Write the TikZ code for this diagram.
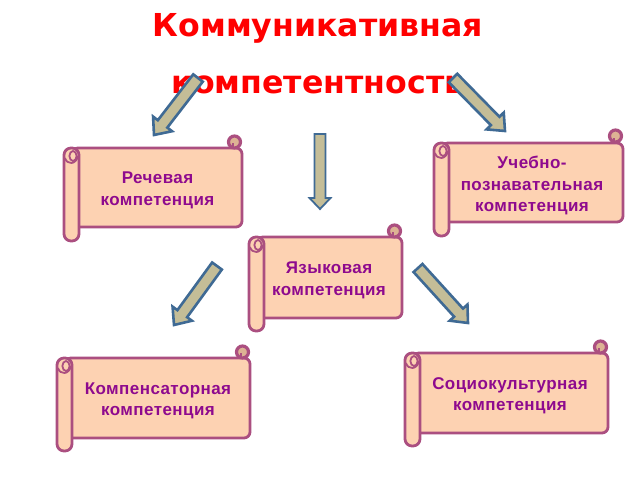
\documentclass[tikz,border=0pt]{standalone}
\usepackage{fontspec}
\setmainfont{Liberation Sans}[LetterSpace=2.5]
\newfontfamily\titlefont{DejaVu Sans}
\usetikzlibrary{calc}
\definecolor{peach}{HTML}{FDD2B2}
\definecolor{scrollline}{HTML}{AB4F80}
\definecolor{curlfill}{HTML}{DDB394}
\definecolor{arrowfill}{HTML}{C4BD97}
\definecolor{arrowline}{HTML}{3F6A94}
\definecolor{labelcol}{HTML}{8E0A8E}
\tikzset{
  x=1pt,y=-1pt,
  scrolledge/.style={draw=scrollline,line width=2.8pt,fill=peach,line join=round},
  scrollcurl/.style={draw=scrollline,line width=3.2pt,fill=curlfill},
  scrollspiral/.style={draw=scrollline,line width=1.8pt},
  scrolllabel/.style={font=\bfseries\fontsize{17}{21.5}\selectfont,text=labelcol,align=center,inner sep=0pt},
  blockarrow/.style={draw=arrowline,line width=2.6pt,fill=arrowfill,line join=miter},
  slimarrow/.style={draw=arrowline,line width=1.8pt,fill=arrowfill,line join=miter},
  titletext/.style={font=\titlefont\bfseries\fontsize{31.6}{34}\selectfont,text=red,inner sep=0pt},
}
% name, L, R, T(curl top), bodytop, bodybottom, B, text, dx
\newcommand{\myscroll}[9]{%
  \path[scrolledge,rounded corners=6pt] (#2+8,#5) -- (#3,#5) -- (#3,#6) -- (#2+8,#6) -- cycle;
  \path[scrollcurl] (#3-7.5,#4+7) circle[radius=6];
  \draw[scrollline,line width=2.8pt] (#3-15,#5) -- (#3-6,#5);
  \draw[scrollspiral] (#3-9,#5-1) -- (#3-9,#5-5);
  \path[scrolledge,rounded corners=7pt] (#2,#5) rectangle (#2+15,#7);
  \path[draw=scrollline,line width=1.8pt] (#2+1,#5+10) .. controls (#2+3,#5+17) and (#2+12,#5+17) .. (#2+14,#5+8);
  \draw[scrollspiral] (#2+9,#5+8) ellipse[x radius=3.6,y radius=5];
  \node[scrolllabel] (#1) at ({(#2+15+#3)/2+#9},{(#5+#6)/2+3}) {#8};
}
% name, tailx, taily, tipx, tipy, half shaft, half head, head length, style
\newcommand{\myarrow}[9]{%
  \coordinate (#1tail) at (#2,#3);
  \coordinate (#1tip) at (#4,#5);
  \path[#9] let \p1=($(#1tip)-(#1tail)$), \n1={atan2(\y1,\x1)}, \n2={veclen(\x1,\y1)} in
    [shift={(#1tail)},rotate=\n1,x=1pt,y=1pt]
    (0,-#6) -- (\n2-#8,-#6) -- (\n2-#8,-#7) -- (\n2,0) -- (\n2-#8,#7) -- (\n2-#8,#6) -- (0,#6) -- cycle;
}
\begin{document}
\begin{tikzpicture}
\useasboundingbox (0,0) rectangle (640,480);
\fill[white] (0,0) rectangle (640,480);
\node[titletext] (t1) at (318,28) {Коммуникативная};
\node[titletext] (t2) at (318,85) {компетентность};
\myscroll{s1}{64}{242}{135}{148}{227}{241}{Речевая\\компетенция}{-3}
\myscroll{s2}{434}{623}{129}{143}{222}{236}{Учебно-\\познавательная\\компетенция}{-4}
\myscroll{s3}{249}{402}{224}{237}{318}{331}{Языковая\\компетенция}{-4}
\myscroll{s4}{57}{250}{345}{358}{438}{451}{Компенсаторная\\компетенция}{-3}
\myscroll{s5}{405}{608}{340}{353}{433}{446}{Социокультурная\\компетенция}{-4}
\myarrow{a1}{198}{78}{154}{135}{6}{12}{14}{blockarrow}
\myarrow{a2}{453}{78}{505}{131}{6}{12}{14}{blockarrow}
\myarrow{a3}{320}{134}{320}{209}{5.5}{10.5}{11}{slimarrow}
\myarrow{a4}{217}{266}{174}{325}{6}{12}{14}{blockarrow}
\myarrow{a5}{418}{268}{468}{323}{6}{12}{14}{blockarrow}
\end{tikzpicture}
\end{document}
